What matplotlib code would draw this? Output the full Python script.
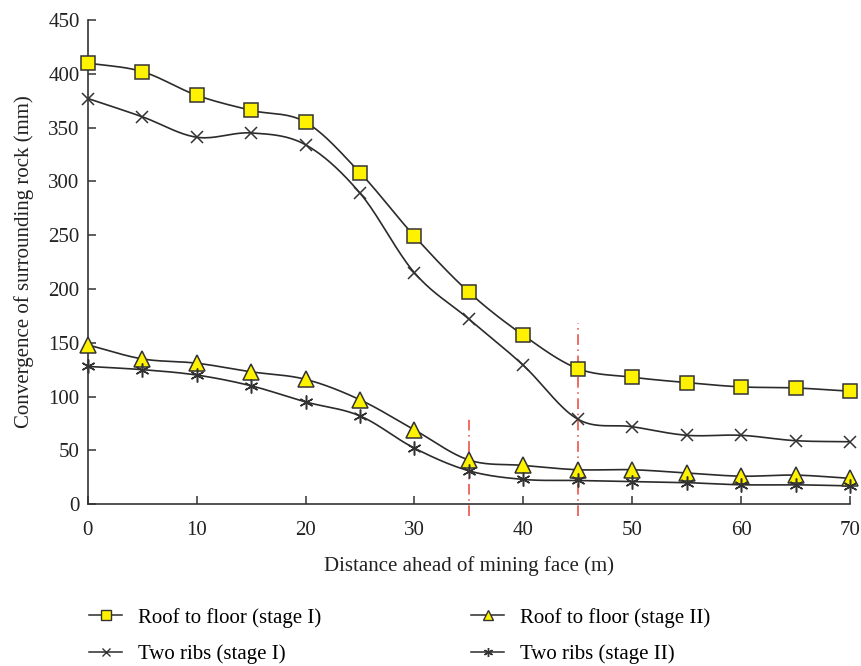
import numpy as np
import matplotlib.pyplot as plt

plt.rcParams['font.family'] = ['Liberation Serif', 'DejaVu Serif']

distance = [0, 5, 10, 15, 20, 25, 30, 35, 40, 45, 50, 55, 60, 65, 70]
roof_stage1 = [410, 402, 380, 366, 355, 308, 249, 197, 157, 126, 118, 113, 109, 108, 105]
ribs_stage1 = [377, 360, 341, 345, 334, 289, 215, 172, 129, 79, 72, 64, 64, 59, 58]
roof_stage2 = [148, 135, 131, 123, 116, 97, 69, 41, 36, 32, 32, 29, 26, 27, 24]
ribs_stage2 = [128, 125, 120, 110, 95, 82, 52, 31, 23, 22, 21, 20, 18, 18, 17]

# boundary lines (x position, top of line)
marks_x = [35, 45]
marks_top = [82, 168]


# smooth curve through the points (catmull-rom), only for drawing the line
def smooth(x, y, n=20):
    x = np.asarray(x, float)
    y = np.asarray(y, float)
    px = np.concatenate([[2 * x[0] - x[1]], x, [2 * x[-1] - x[-2]]])
    py = np.concatenate([[2 * y[0] - y[1]], y, [2 * y[-1] - y[-2]]])
    t = np.linspace(0, 1, n, endpoint=False)
    xs, ys = [], []
    for i in range(1, len(px) - 2):
        for p, out in ((px, xs), (py, ys)):
            p0, p1, p2, p3 = p[i - 1], p[i], p[i + 1], p[i + 2]
            out.extend(0.5 * (2 * p1 + (-p0 + p2) * t + (2 * p0 - 5 * p1 + 4 * p2 - p3) * t ** 2
                              + (-p0 + 3 * p1 - 3 * p2 + p3) * t ** 3))
    xs.append(x[-1])
    ys.append(y[-1])
    return np.array(xs), np.array(ys)


fig = plt.figure(figsize=(8.62, 6.66), dpi=100)
ax = fig.add_axes([0.102, 0.243, 0.884, 0.727])

for ix, top in zip(marks_x, marks_top):
    ax.plot([ix, ix], [-11, top], color='#e8453c', lw=1.1, ls=(0, (7, 3, 1, 3)),
            clip_on=False, zorder=1)

styles = [
    (roof_stage1, 's', 'Roof to floor (stage I)', 10),
    (ribs_stage1, 'x', 'Two ribs (stage I)', 9),
    (roof_stage2, '^', 'Roof to floor (stage II)', 11),
    (ribs_stage2, (6, 2, 0), 'Two ribs (stage II)', 10),
]
handles = []
for vals, mk, lab, ms in styles:
    sx, sy = smooth(distance, vals)
    ax.plot(sx, sy, color='#2b2b2b', lw=1.2, zorder=2)
    filled = mk in ('s', '^')
    ax.plot(distance, vals, ls='none', marker=mk, ms=ms,
            mfc='#fff200' if filled else 'none', mec='#333333', mew=1.1,
            zorder=3, clip_on=False)
    h, = ax.plot([], [], color='#2b2b2b', lw=1.1, marker=mk, ms=ms * 0.65,
                 mfc='#fff200' if filled else 'none', mec='#333333', mew=1.0, label=lab)
    handles.append(h)

ax.set_xlim(0, 70)
ax.set_ylim(0, 450)
ax.set_xticks(range(0, 71, 10))
ax.set_yticks(range(0, 451, 50))
ax.spines['top'].set_visible(False)
ax.spines['right'].set_visible(False)
for s in ('left', 'bottom'):
    ax.spines[s].set_color('#333333')
    ax.spines[s].set_linewidth(1.2)
ax.tick_params(direction='in', length=6, width=1.1, color='#333333',
               labelsize=15, labelcolor='#222222')
ax.tick_params(axis='x', pad=12)
ax.tick_params(axis='y', pad=6)
ax.set_xlabel('Distance ahead of mining face (m)', fontsize=15, color='#222222', labelpad=12)
ax.set_ylabel('Convergence of surrounding rock (mm)', fontsize=15, color='#222222', labelpad=10)

fig.legend(handles=handles, ncol=2, loc='upper left', bbox_to_anchor=(0.0935, 0.1),
           frameon=False, fontsize=15, handlelength=1.6, handletextpad=0.75,
           columnspacing=7.2, labelspacing=0.8, borderaxespad=0)

fig.savefig('out.png', dpi=100)
